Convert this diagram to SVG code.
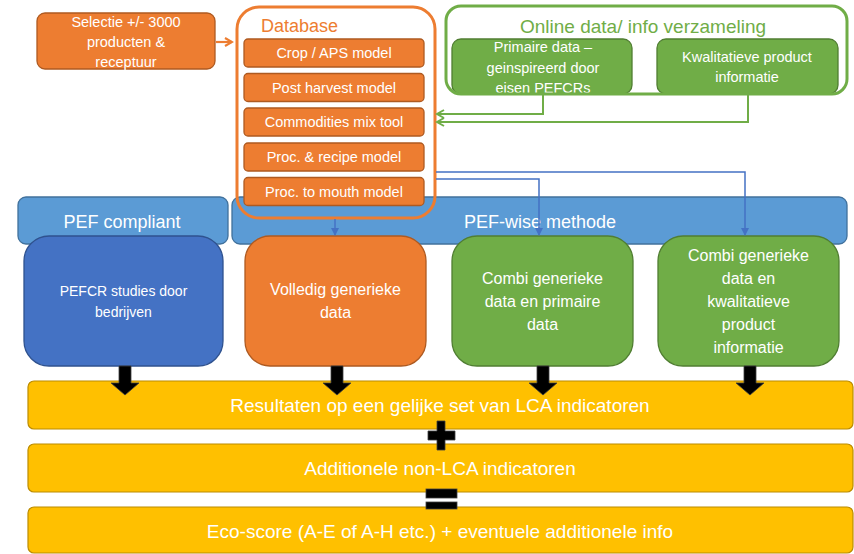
<svg xmlns="http://www.w3.org/2000/svg" width="854" height="554" viewBox="0 0 854 554">
<style>
text{font-family:"Liberation Sans",Arial,sans-serif;fill:#fff;text-anchor:middle}
.or{fill:#ED7D31;stroke:#AE5A21;stroke-width:1.3}
.gr{fill:#70AD47;stroke:#507E32;stroke-width:1.3}
.lb{fill:#5B9BD5;stroke:#41719C;stroke-width:1.3}
.db{fill:#4472C4;stroke:#2F528F;stroke-width:1.3}
.ye{fill:#FFC000;stroke:#BC8C00;stroke-width:1.2}
.s14{font-size:14.5px}
.s16{font-size:16px}
.s18{font-size:18px}
.s19{font-size:19px}
.blue{fill:none;stroke:#4472C4;stroke-width:1.5}
.green{fill:none;stroke:#70AD47;stroke-width:2}
.orl{fill:none;stroke:#ED7D31;stroke-width:2.2}
.blk{fill:#000;stroke:#404040;stroke-width:0.8}
</style>
<defs>
<marker id="ab" markerWidth="8" markerHeight="8" refX="7" refY="4" orient="auto" markerUnits="userSpaceOnUse">
<path d="M0,0 L8,4 L0,8 Z" fill="#4472C4"/>
</marker>
<marker id="ag" markerWidth="10" markerHeight="10" refX="8" refY="5" orient="auto" markerUnits="userSpaceOnUse">
<path d="M1,1 L8,5 L1,9" fill="none" stroke="#70AD47" stroke-width="2"/>
</marker>
<marker id="ao" markerWidth="10" markerHeight="10" refX="8" refY="5" orient="auto" markerUnits="userSpaceOnUse">
<path d="M1,1 L8,5 L1,9" fill="none" stroke="#ED7D31" stroke-width="2.2"/>
</marker>
</defs>

<rect width="854" height="554" fill="#fff"/>

<g id="selectie">
<rect class="or" x="37" y="13" width="178" height="56" rx="8"/>
<text class="s14" x="126" y="27">Selectie +/- 3000</text>
<text class="s14" x="126" y="47">producten &amp;</text>
<text class="s14" x="126" y="67">receptuur</text>
</g>

<g id="pef-compliant">
<rect class="lb" x="18" y="197" width="210" height="47" rx="8"/>
<text class="s18" x="122" y="228">PEF compliant</text>
</g>

<g id="pef-wise">
<rect class="lb" x="232" y="197" width="615" height="47" rx="8"/>
<text class="s18" x="540" y="228">PEF-wise methode</text>
</g>

<g id="database">
<rect x="237" y="7" width="198" height="211" rx="22" fill="none" stroke="#ED7D31" stroke-width="3"/>
<text x="261" y="32" style="font-size:18px;fill:#ED7D31;text-anchor:start">Database</text>
<rect class="or" x="244" y="39" width="180" height="28" rx="4"/>
<text class="s14" x="334" y="58">Crop / APS model</text>
<rect class="or" x="244" y="73.5" width="180" height="28" rx="4"/>
<text class="s14" x="334" y="92.5">Post harvest model</text>
<rect class="or" x="244" y="108" width="180" height="28" rx="4"/>
<text class="s14" x="334" y="127">Commodities mix tool</text>
<rect class="or" x="244" y="143" width="180" height="28" rx="4"/>
<text class="s14" x="334" y="162">Proc. &amp; recipe model</text>
<rect class="or" x="244" y="177.5" width="180" height="28" rx="4"/>
<text class="s14" x="334" y="196.5">Proc. to mouth model</text>
</g>

<g id="online">
<rect class="gr" x="452" y="39" width="180" height="55" rx="9"/>
<text class="s14" x="543" y="52">Primaire data –</text>
<text class="s14" x="543" y="73">geinspireerd door</text>
<text class="s14" x="543" y="93">eisen PEFCRs</text>
<rect class="gr" x="657" y="39" width="181" height="55" rx="9"/>
<text class="s14" x="747" y="62">Kwalitatieve product</text>
<text class="s14" x="747" y="82">informatie</text>
<rect x="446" y="6" width="401" height="88" rx="15" fill="none" stroke="#70AD47" stroke-width="3"/>
<text x="643" y="33" style="font-size:19px;fill:#70AD47">Online data/ info verzameling</text>
</g>

<g id="pefcr">
<rect class="db" x="24" y="236" width="199" height="130" rx="25"/>
<text style="font-size:14px" x="123.5" y="296">PEFCR studies door</text>
<text style="font-size:14px" x="123.5" y="317">bedrijven</text>
</g>

<g id="volledig">
<rect class="or" x="245" y="236" width="181" height="130" rx="25"/>
<text class="s16" x="335.5" y="295">Volledig generieke</text>
<text class="s16" x="335.5" y="318">data</text>
</g>

<g id="combi1">
<rect class="gr" x="452" y="236" width="181" height="130" rx="25"/>
<text class="s16" x="542.5" y="284">Combi generieke</text>
<text class="s16" x="542.5" y="307">data en primaire</text>
<text class="s16" x="542.5" y="330">data</text>
</g>

<g id="combi2">
<rect class="gr" x="658" y="236" width="181" height="130" rx="25"/>
<text class="s16" x="748.5" y="261">Combi generieke</text>
<text class="s16" x="748.5" y="284">data en</text>
<text class="s16" x="748.5" y="307">kwalitatieve</text>
<text class="s16" x="748.5" y="330">product</text>
<text class="s16" x="748.5" y="353">informatie</text>
</g>

<g id="resultaten">
<rect class="ye" x="28" y="381" width="825" height="48" rx="6"/>
<text class="s19" x="440" y="412">Resultaten op een gelijke set van LCA indicatoren</text>
</g>

<g id="additionele">
<rect class="ye" x="28" y="444" width="825" height="48" rx="6"/>
<text class="s19" x="440" y="475">Additionele non-LCA indicatoren</text>
</g>

<g id="ecoscore">
<rect class="ye" x="28" y="507" width="825" height="46" rx="6"/>
<text class="s19" x="440" y="538">Eco-score (A-E of A-H etc.) + eventuele additionele info</text>
</g>

<g id="connectors">
<path class="orl" d="M216,42 H232" marker-end="url(#ao)"/>
<path class="green" d="M543,94 V114 H437" marker-end="url(#ag)"/>
<path class="green" d="M748,94 V122 H437" marker-end="url(#ag)"/>
<path class="blue" d="M436,172 H745 V235" marker-end="url(#ab)"/>
<path class="blue" d="M436,179 H539 V235" marker-end="url(#ab)"/>
<path class="blue" d="M335,219 V235" marker-end="url(#ab)"/>
<path class="blk" d="M119,366 H131 V383 H139 L125,395 L111,383 H119 Z"/>
<path class="blk" d="M331,366 H343 V383 H351 L337,395 L323,383 H331 Z"/>
<path class="blk" d="M537,366 H549 V383 H557 L543,395 L529,383 H537 Z"/>
<path class="blk" d="M744,366 H756 V383 H764 L750,395 L736,383 H744 Z"/>
<path class="blk" d="M437,421 H445 V431 H455 V440 H445 V450 H437 V440 H428 V431 H437 Z"/>
<rect class="blk" x="426" y="489" width="31" height="9"/>
<rect class="blk" x="426" y="502" width="31" height="7"/>
</g>
</svg>
